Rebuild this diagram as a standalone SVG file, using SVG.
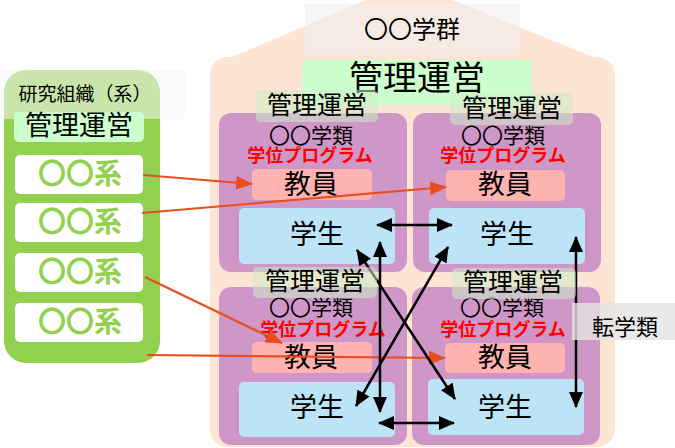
<svg xmlns="http://www.w3.org/2000/svg" width="675" height="448" viewBox="0 0 675 448">
<defs>
<style>
text{font-family:"Noto Sans CJK JP","Noto Sans",sans-serif;text-anchor:middle;fill:#000}
.purple{fill:#cf97c8}
.pink{fill:#ffb3b1}
.blue{fill:#bde4f6}
.lab{fill:rgb(205,235,200);fill-opacity:0.55}
.lt{font-size:25px}
.gk{font-size:21px}
.red{fill:#ff0000;font-weight:bold;font-size:18px}
.big{font-size:27px}
.kei{fill:#92d050;font-weight:bold;font-size:28px}
.blk{stroke:#000;stroke-width:2.5;fill:none;marker-start:url(#ab);marker-end:url(#ab)}
.rd{stroke:#e84e1e;stroke-width:2.2;fill:none;marker-end:url(#ar)}
</style>
<marker id="ab" markerUnits="userSpaceOnUse" markerWidth="16" markerHeight="14" refX="15" refY="7" orient="auto-start-reverse"><path d="M0,0 L16,7 L0,14 z" fill="#000"/></marker>
<marker id="ar" markerUnits="userSpaceOnUse" markerWidth="17" markerHeight="14" refX="16" refY="7" orient="auto"><path d="M0,0 L17,7 L0,14 z" fill="#e84e1e"/></marker>
</defs>
<rect width="675" height="448" fill="#fff"/>

<g id="gakugun">
<polygon points="211,66 408,-18 616,66" fill="#fde4d3"/>
<rect x="210" y="57" width="405" height="390" rx="18" fill="#fde4d3"/>
<rect x="305" y="4" width="215" height="51" fill="rgb(240,240,240)" fill-opacity="0.6"/>
<text x="412" y="38" font-size="24">〇〇学群</text>
</g>

<g id="kanri-main">
<rect x="302" y="60" width="230" height="45" rx="6" fill="#ccffcc"/>
<text x="417" y="90" font-size="34">管理運営</text>
</g>

<g id="kei-panel">
<rect x="4" y="70" width="156" height="293" rx="22" fill="#92d050"/>
<rect x="0" y="70" width="185" height="49" fill="rgb(245,245,245)" fill-opacity="0.55"/>
<text x="85" y="101" font-size="19">研究組織（系）</text>
<rect x="14" y="112" width="130" height="30" rx="5" fill="#ccffcc"/>
<text x="79" y="135" font-size="27">管理運営</text>
</g>
<g id="kei1"><rect x="15" y="155" width="128" height="39" rx="5" fill="#fff"/><text class="kei" x="80" y="184">〇〇系</text></g>
<g id="kei2"><rect x="15" y="203" width="128" height="39" rx="5" fill="#fff"/><text class="kei" x="80" y="232">〇〇系</text></g>
<g id="kei3"><rect x="15" y="253" width="128" height="39" rx="5" fill="#fff"/><text class="kei" x="80" y="282">〇〇系</text></g>
<g id="kei4"><rect x="15" y="303" width="128" height="39" rx="5" fill="#fff"/><text class="kei" x="80" y="332">〇〇系</text></g>

<g id="rui-tl">
<rect class="purple" x="219" y="113" width="188" height="159" rx="12"/>
<text class="gk" x="311" y="143">〇〇学類</text>
<text class="red" x="310" y="162">学位プログラム</text>
<rect class="pink" x="252" y="169" width="120" height="31" rx="5"/>
<text class="big" x="311" y="194">教員</text>
<rect class="blue" x="239" y="208" width="156" height="56" rx="5"/>
<text class="big" x="317" y="244">学生</text>
</g>
<g id="rui-tr">
<rect class="purple" x="413" y="113" width="188" height="159" rx="12"/>
<text class="gk" x="503" y="143">〇〇学類</text>
<text class="red" x="503" y="162">学位プログラム</text>
<rect class="pink" x="446" y="170" width="119" height="31" rx="5"/>
<text class="big" x="505" y="194">教員</text>
<rect class="blue" x="429" y="208" width="156" height="56" rx="5"/>
<text class="big" x="507" y="244">学生</text>
</g>
<g id="rui-bl">
<rect class="purple" x="219" y="287" width="188" height="158" rx="12"/>
<text class="gk" x="311" y="315">〇〇学類</text>
<text class="red" x="323" y="336">学位プログラム</text>
<rect class="pink" x="252" y="342" width="120" height="31" rx="5"/>
<text class="big" x="311" y="367">教員</text>
<rect class="blue" x="239" y="382" width="156" height="55" rx="5"/>
<text class="big" x="317" y="417">学生</text>
</g>
<g id="rui-br">
<rect class="purple" x="412" y="287" width="188" height="158" rx="12"/>
<text class="gk" x="502" y="315">〇〇学類</text>
<text class="red" x="503" y="336">学位プログラム</text>
<rect class="pink" x="445" y="343" width="120" height="30" rx="5"/>
<text class="big" x="505" y="367">教員</text>
<rect class="blue" x="428" y="379" width="156" height="56" rx="5"/>
<text class="big" x="505" y="417">学生</text>
</g>

<g id="connectors">
<line class="rd" x1="143" y1="175" x2="252" y2="184"/>
<line class="rd" x1="142" y1="213" x2="446" y2="187"/>
<line class="rd" x1="145" y1="277" x2="282" y2="343"/>
<line class="rd" x1="147" y1="355" x2="445" y2="358"/>
<line class="blk" x1="377" y1="225" x2="452" y2="225"/>
<line class="blk" x1="379" y1="423" x2="454" y2="423"/>
<line class="blk" x1="380" y1="242" x2="380" y2="412"/>
<line class="blk" x1="356" y1="406" x2="448" y2="247"/>
<line class="blk" x1="357" y1="250" x2="455" y2="399"/>
<line class="blk" x1="576" y1="237" x2="576" y2="407"/>
</g>

<g id="kanri-tl"><rect class="lab" x="256" y="90" width="122" height="32" rx="5"/><text class="lt" x="317" y="114">管理運営</text></g>
<g id="kanri-tr"><rect class="lab" x="450" y="93" width="123" height="32" rx="5"/><text class="lt" x="512" y="117">管理運営</text></g>
<g id="kanri-bl"><rect class="lab" x="253" y="267" width="124" height="31" rx="5"/><text class="lt" x="315" y="290">管理運営</text></g>
<g id="kanri-br"><rect class="lab" x="452" y="268" width="124" height="31" rx="5"/><text class="lt" x="513" y="291">管理運営</text></g>

<g id="tengakurui">
<rect x="572" y="303" width="103" height="37" fill="rgb(228,228,228)" fill-opacity="0.8"/>
<text x="625" y="335" font-size="22">転学類</text>
</g>
</svg>
